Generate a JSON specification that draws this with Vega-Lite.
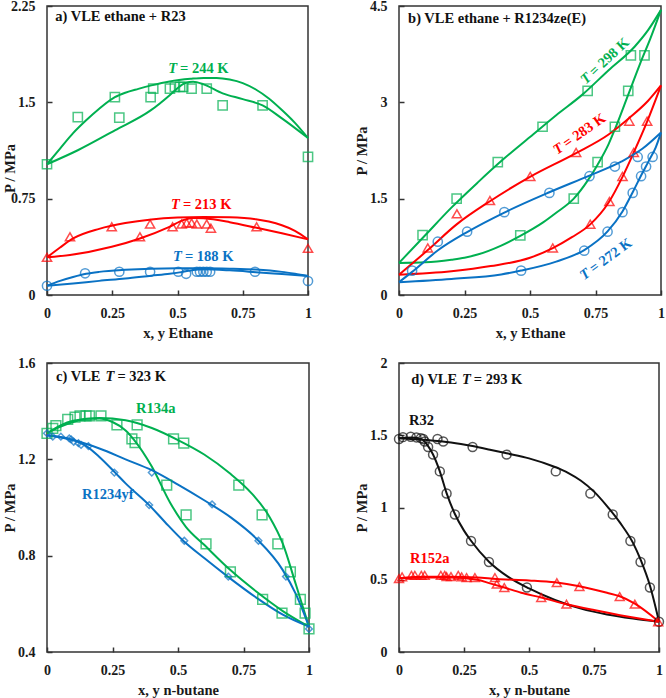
{
"$schema": "https://vega.github.io/schema/vega-lite/v6.json",
"background": "white",
"padding": {"left": 1, "top": -2, "right": 5, "bottom": 5},
"columns": 2,
"spacing": {"row": 68, "column": 90},
"bounds": "flush",
"resolve": {"scale": {"color": "independent", "shape": "independent", "size": "independent", "x": "independent", "y": "independent"}},
"config": {
 "font": "Liberation Serif",
 "view": {"stroke": "#333333", "strokeWidth": 1.5},
 "axis": {"grid": false, "domain": false, "tickSize": -5, "tickColor": "#333333", "tickWidth": 1.5, "labelFont": "Liberation Serif", "labelFontSize": 14, "labelFontWeight": "bold", "labelColor": "#1a1a1a", "labelFlush": false, "labelOverlap": false, "titleFont": "Liberation Serif", "titleFontSize": 14.5, "titleFontWeight": "bold", "titleColor": "#1a1a1a"},
 "axisX": {"labelPadding": 16, "titleBaseline": "middle", "titleY": 38},
 "axisY": {"labelPadding": 17, "titleBaseline": "middle", "titleX": -37},
 "text": {"font": "Liberation Serif", "fontSize": 14.5, "fontWeight": "bold"}
},
"datasets": {
 "aPts": [
  {"s":"244 K","x":0,"y":1.018},{"s":"244 K","x":0.118,"y":1.385},{"s":"244 K","x":0.26,"y":1.541},{"s":"244 K","x":0.277,"y":1.381},{"s":"244 K","x":0.397,"y":1.541},{"s":"244 K","x":0.407,"y":1.606},{"s":"244 K","x":0.471,"y":1.606},{"s":"244 K","x":0.49,"y":1.62},{"s":"244 K","x":0.51,"y":1.62},{"s":"244 K","x":0.522,"y":1.62},{"s":"244 K","x":0.554,"y":1.606},{"s":"244 K","x":0.612,"y":1.606},{"s":"244 K","x":0.673,"y":1.476},{"s":"244 K","x":0.826,"y":1.476},{"s":"244 K","x":1,"y":1.075},
  {"s":"213 K","x":0,"y":0.293},{"s":"213 K","x":0.088,"y":0.453},{"s":"213 K","x":0.248,"y":0.531},{"s":"213 K","x":0.356,"y":0.453},{"s":"213 K","x":0.395,"y":0.552},{"s":"213 K","x":0.481,"y":0.531},{"s":"213 K","x":0.516,"y":0.552},{"s":"213 K","x":0.535,"y":0.56},{"s":"213 K","x":0.554,"y":0.56},{"s":"213 K","x":0.574,"y":0.552},{"s":"213 K","x":0.612,"y":0.552},{"s":"213 K","x":0.628,"y":0.52},{"s":"213 K","x":0.803,"y":0.531},{"s":"213 K","x":1,"y":0.363},
  {"s":"188 K","x":0,"y":0.072},{"s":"188 K","x":0.146,"y":0.169},{"s":"188 K","x":0.277,"y":0.181},{"s":"188 K","x":0.395,"y":0.181},{"s":"188 K","x":0.503,"y":0.181},{"s":"188 K","x":0.533,"y":0.165},{"s":"188 K","x":0.574,"y":0.181},{"s":"188 K","x":0.586,"y":0.181},{"s":"188 K","x":0.599,"y":0.181},{"s":"188 K","x":0.612,"y":0.181},{"s":"188 K","x":0.625,"y":0.181},{"s":"188 K","x":0.797,"y":0.181},{"s":"188 K","x":1,"y":0.109}
 ],
 "aLines": [
  {"c":"g1","s":"244 K","x":0,"y":1.018},{"c":"g1","s":"244 K","x":0.05,"y":1.14},{"c":"g1","s":"244 K","x":0.1,"y":1.26},{"c":"g1","s":"244 K","x":0.15,"y":1.36},{"c":"g1","s":"244 K","x":0.2,"y":1.45},{"c":"g1","s":"244 K","x":0.26,"y":1.54},{"c":"g1","s":"244 K","x":0.3,"y":1.575},{"c":"g1","s":"244 K","x":0.35,"y":1.605},{"c":"g1","s":"244 K","x":0.4,"y":1.632},{"c":"g1","s":"244 K","x":0.47,"y":1.663},{"c":"g1","s":"244 K","x":0.55,"y":1.683},{"c":"g1","s":"244 K","x":0.6,"y":1.69},{"c":"g1","s":"244 K","x":0.65,"y":1.69},{"c":"g1","s":"244 K","x":0.7,"y":1.678},{"c":"g1","s":"244 K","x":0.75,"y":1.65},{"c":"g1","s":"244 K","x":0.8,"y":1.6},{"c":"g1","s":"244 K","x":0.85,"y":1.53},{"c":"g1","s":"244 K","x":0.9,"y":1.44},{"c":"g1","s":"244 K","x":0.95,"y":1.34},{"c":"g1","s":"244 K","x":1,"y":1.222},
  {"c":"g2","s":"244 K","x":0,"y":1.018},{"c":"g2","s":"244 K","x":0.118,"y":1.127},{"c":"g2","s":"244 K","x":0.26,"y":1.282},{"c":"g2","s":"244 K","x":0.397,"y":1.437},{"c":"g2","s":"244 K","x":0.469,"y":1.554},{"c":"g2","s":"244 K","x":0.5,"y":1.61},{"c":"g2","s":"244 K","x":0.53,"y":1.65},{"c":"g2","s":"244 K","x":0.56,"y":1.66},{"c":"g2","s":"244 K","x":0.6,"y":1.64},{"c":"g2","s":"244 K","x":0.673,"y":1.57},{"c":"g2","s":"244 K","x":0.75,"y":1.525},{"c":"g2","s":"244 K","x":0.826,"y":1.476},{"c":"g2","s":"244 K","x":0.9,"y":1.375},{"c":"g2","s":"244 K","x":1,"y":1.222},
  {"c":"r1","s":"213 K","x":0,"y":0.293},{"c":"r1","s":"213 K","x":0.05,"y":0.37},{"c":"r1","s":"213 K","x":0.1,"y":0.44},{"c":"r1","s":"213 K","x":0.2,"y":0.515},{"c":"r1","s":"213 K","x":0.3,"y":0.56},{"c":"r1","s":"213 K","x":0.4,"y":0.588},{"c":"r1","s":"213 K","x":0.5,"y":0.603},{"c":"r1","s":"213 K","x":0.6,"y":0.608},{"c":"r1","s":"213 K","x":0.7,"y":0.605},{"c":"r1","s":"213 K","x":0.8,"y":0.59},{"c":"r1","s":"213 K","x":0.85,"y":0.572},{"c":"r1","s":"213 K","x":0.9,"y":0.543},{"c":"r1","s":"213 K","x":0.95,"y":0.5},{"c":"r1","s":"213 K","x":1,"y":0.433},
  {"c":"r2","s":"213 K","x":0,"y":0.293},{"c":"r2","s":"213 K","x":0.088,"y":0.311},{"c":"r2","s":"213 K","x":0.248,"y":0.375},{"c":"r2","s":"213 K","x":0.356,"y":0.44},{"c":"r2","s":"213 K","x":0.469,"y":0.531},{"c":"r2","s":"213 K","x":0.522,"y":0.583},{"c":"r2","s":"213 K","x":0.56,"y":0.6},{"c":"r2","s":"213 K","x":0.6,"y":0.597},{"c":"r2","s":"213 K","x":0.7,"y":0.567},{"c":"r2","s":"213 K","x":0.803,"y":0.523},{"c":"r2","s":"213 K","x":0.9,"y":0.48},{"c":"r2","s":"213 K","x":1,"y":0.433},
  {"c":"b1","s":"188 K","x":0,"y":0.072},{"c":"b1","s":"188 K","x":0.05,"y":0.11},{"c":"b1","s":"188 K","x":0.1,"y":0.14},{"c":"b1","s":"188 K","x":0.15,"y":0.165},{"c":"b1","s":"188 K","x":0.2,"y":0.18},{"c":"b1","s":"188 K","x":0.3,"y":0.196},{"c":"b1","s":"188 K","x":0.4,"y":0.205},{"c":"b1","s":"188 K","x":0.5,"y":0.208},{"c":"b1","s":"188 K","x":0.6,"y":0.208},{"c":"b1","s":"188 K","x":0.7,"y":0.205},{"c":"b1","s":"188 K","x":0.8,"y":0.198},{"c":"b1","s":"188 K","x":0.9,"y":0.18},{"c":"b1","s":"188 K","x":0.95,"y":0.165},{"c":"b1","s":"188 K","x":1,"y":0.148},
  {"c":"b2","s":"188 K","x":0,"y":0.072},{"c":"b2","s":"188 K","x":0.1,"y":0.09},{"c":"b2","s":"188 K","x":0.2,"y":0.11},{"c":"b2","s":"188 K","x":0.3,"y":0.128},{"c":"b2","s":"188 K","x":0.4,"y":0.15},{"c":"b2","s":"188 K","x":0.47,"y":0.165},{"c":"b2","s":"188 K","x":0.52,"y":0.18},{"c":"b2","s":"188 K","x":0.56,"y":0.195},{"c":"b2","s":"188 K","x":0.6,"y":0.2},{"c":"b2","s":"188 K","x":0.7,"y":0.192},{"c":"b2","s":"188 K","x":0.8,"y":0.178},{"c":"b2","s":"188 K","x":0.9,"y":0.163},{"c":"b2","s":"188 K","x":1,"y":0.148}
 ],
 "aLab": [
  {"t":"a) VLE  ethane + R23","s":"title","x":0.024,"y":2.162},
  {"t":"T","s":"244 K","x":0.502,"y":1.756},{"t":"= 244 K","s":"244 K","x":0.502,"y":1.756},
  {"t":"T","s":"213 K","x":0.513,"y":0.699},{"t":"= 213 K","s":"213 K","x":0.513,"y":0.699},
  {"t":"T","s":"188 K","x":0.521,"y":0.295},{"t":"= 188 K","s":"188 K","x":0.521,"y":0.295}
 ],
 "bPts": [
  {"s":"298 K","x":0.09,"y":0.931},{"s":"298 K","x":0.22,"y":1.5},{"s":"298 K","x":0.377,"y":2.07},{"s":"298 K","x":0.548,"y":2.62},{"s":"298 K","x":0.72,"y":3.18},{"s":"298 K","x":0.885,"y":3.73},{"s":"298 K","x":0.937,"y":3.73},{"s":"298 K","x":0.875,"y":3.18},{"s":"298 K","x":0.824,"y":2.62},{"s":"298 K","x":0.758,"y":2.07},{"s":"298 K","x":0.667,"y":1.5},{"s":"298 K","x":0.463,"y":0.93},
  {"s":"283 K","x":0.11,"y":0.732},{"s":"283 K","x":0.221,"y":1.264},{"s":"283 K","x":0.347,"y":1.471},{"s":"283 K","x":0.501,"y":1.846},{"s":"283 K","x":0.676,"y":2.22},{"s":"283 K","x":0.879,"y":2.707},{"s":"283 K","x":0.947,"y":2.707},{"s":"283 K","x":0.896,"y":2.22},{"s":"283 K","x":0.853,"y":1.846},{"s":"283 K","x":0.803,"y":1.456},{"s":"283 K","x":0.73,"y":1.103},{"s":"283 K","x":0.587,"y":0.732},
  {"s":"272 K","x":0.05,"y":0.379},{"s":"272 K","x":0.148,"y":0.83},{"s":"272 K","x":0.26,"y":0.986},{"s":"272 K","x":0.402,"y":1.29},{"s":"272 K","x":0.574,"y":1.59},{"s":"272 K","x":0.727,"y":1.85},{"s":"272 K","x":0.824,"y":2.0},{"s":"272 K","x":0.911,"y":2.15},{"s":"272 K","x":0.968,"y":2.15},{"s":"272 K","x":0.943,"y":2.0},{"s":"272 K","x":0.924,"y":1.85},{"s":"272 K","x":0.892,"y":1.59},{"s":"272 K","x":0.853,"y":1.29},{"s":"272 K","x":0.796,"y":0.986},{"s":"272 K","x":0.707,"y":0.69},{"s":"272 K","x":0.466,"y":0.379}
 ],
 "bLines": [
  {"c":"g1","s":"298 K","x":0,"y":0.5},{"c":"g1","s":"298 K","x":0.1,"y":0.93},{"c":"g1","s":"298 K","x":0.2,"y":1.36},{"c":"g1","s":"298 K","x":0.3,"y":1.75},{"c":"g1","s":"298 K","x":0.4,"y":2.12},{"c":"g1","s":"298 K","x":0.5,"y":2.46},{"c":"g1","s":"298 K","x":0.6,"y":2.8},{"c":"g1","s":"298 K","x":0.7,"y":3.12},{"c":"g1","s":"298 K","x":0.8,"y":3.5},{"c":"g1","s":"298 K","x":0.9,"y":3.87},{"c":"g1","s":"298 K","x":0.95,"y":4.12},{"c":"g1","s":"298 K","x":1,"y":4.44},
  {"c":"g2","s":"298 K","x":0,"y":0.5},{"c":"g2","s":"298 K","x":0.1,"y":0.51},{"c":"g2","s":"298 K","x":0.2,"y":0.55},{"c":"g2","s":"298 K","x":0.25,"y":0.58},{"c":"g2","s":"298 K","x":0.3,"y":0.63},{"c":"g2","s":"298 K","x":0.39,"y":0.77},{"c":"g2","s":"298 K","x":0.463,"y":0.92},{"c":"g2","s":"298 K","x":0.55,"y":1.13},{"c":"g2","s":"298 K","x":0.6,"y":1.28},{"c":"g2","s":"298 K","x":0.667,"y":1.5},{"c":"g2","s":"298 K","x":0.72,"y":1.78},{"c":"g2","s":"298 K","x":0.758,"y":2.03},{"c":"g2","s":"298 K","x":0.8,"y":2.35},{"c":"g2","s":"298 K","x":0.824,"y":2.58},{"c":"g2","s":"298 K","x":0.875,"y":3.12},{"c":"g2","s":"298 K","x":0.92,"y":3.6},{"c":"g2","s":"298 K","x":0.96,"y":4.0},{"c":"g2","s":"298 K","x":1,"y":4.44},
  {"c":"r1","s":"283 K","x":0,"y":0.316},{"c":"r1","s":"283 K","x":0.11,"y":0.7},{"c":"r1","s":"283 K","x":0.22,"y":1.1},{"c":"r1","s":"283 K","x":0.347,"y":1.46},{"c":"r1","s":"283 K","x":0.5,"y":1.84},{"c":"r1","s":"283 K","x":0.676,"y":2.21},{"c":"r1","s":"283 K","x":0.8,"y":2.5},{"c":"r1","s":"283 K","x":0.88,"y":2.76},{"c":"r1","s":"283 K","x":0.95,"y":3.02},{"c":"r1","s":"283 K","x":1,"y":3.263},
  {"c":"r2","s":"283 K","x":0,"y":0.316},{"c":"r2","s":"283 K","x":0.2,"y":0.37},{"c":"r2","s":"283 K","x":0.35,"y":0.45},{"c":"r2","s":"283 K","x":0.5,"y":0.58},{"c":"r2","s":"283 K","x":0.587,"y":0.73},{"c":"r2","s":"283 K","x":0.66,"y":0.9},{"c":"r2","s":"283 K","x":0.73,"y":1.1},{"c":"r2","s":"283 K","x":0.8,"y":1.44},{"c":"r2","s":"283 K","x":0.853,"y":1.84},{"c":"r2","s":"283 K","x":0.896,"y":2.22},{"c":"r2","s":"283 K","x":0.947,"y":2.7},{"c":"r2","s":"283 K","x":1,"y":3.263},
  {"c":"b1","s":"272 K","x":0,"y":0.2},{"c":"b1","s":"272 K","x":0.05,"y":0.36},{"c":"b1","s":"272 K","x":0.15,"y":0.7},{"c":"b1","s":"272 K","x":0.26,"y":0.98},{"c":"b1","s":"272 K","x":0.4,"y":1.28},{"c":"b1","s":"272 K","x":0.574,"y":1.6},{"c":"b1","s":"272 K","x":0.727,"y":1.86},{"c":"b1","s":"272 K","x":0.85,"y":2.08},{"c":"b1","s":"272 K","x":0.93,"y":2.28},{"c":"b1","s":"272 K","x":1,"y":2.53},
  {"c":"b2","s":"272 K","x":0,"y":0.2},{"c":"b2","s":"272 K","x":0.2,"y":0.25},{"c":"b2","s":"272 K","x":0.39,"y":0.32},{"c":"b2","s":"272 K","x":0.466,"y":0.38},{"c":"b2","s":"272 K","x":0.6,"y":0.52},{"c":"b2","s":"272 K","x":0.707,"y":0.7},{"c":"b2","s":"272 K","x":0.796,"y":0.99},{"c":"b2","s":"272 K","x":0.853,"y":1.3},{"c":"b2","s":"272 K","x":0.892,"y":1.6},{"c":"b2","s":"272 K","x":0.924,"y":1.86},{"c":"b2","s":"272 K","x":0.955,"y":2.1},{"c":"b2","s":"272 K","x":0.98,"y":2.3},{"c":"b2","s":"272 K","x":1,"y":2.53}
 ],
 "bLab": [
  {"t":"b) VLE  ethane + R1234ze(E)","s":"title","x":0.027,"y":4.3},
  {"t":"T","s":"298 K","x":0.73,"y":3.424},{"t":"= 298 K","s":"298 K","x":0.73,"y":3.424},
  {"t":"T","s":"283 K","x":0.626,"y":2.32},{"t":"= 283 K","s":"283 K","x":0.626,"y":2.32},
  {"t":"T","s":"272 K","x":0.728,"y":0.368},{"t":"= 272 K","s":"272 K","x":0.728,"y":0.368}
 ],
 "cPts": [
  {"s":"R134a","x":0,"y":1.308},{"s":"R134a","x":0.022,"y":1.329},{"s":"R134a","x":0.034,"y":1.34},{"s":"R134a","x":0.079,"y":1.366},{"s":"R134a","x":0.107,"y":1.375},{"s":"R134a","x":0.126,"y":1.38},{"s":"R134a","x":0.149,"y":1.38},{"s":"R134a","x":0.162,"y":1.38},{"s":"R134a","x":0.206,"y":1.38},{"s":"R134a","x":0.267,"y":1.343},{"s":"R134a","x":0.344,"y":1.343},{"s":"R134a","x":0.324,"y":1.285},{"s":"R134a","x":0.336,"y":1.269},{"s":"R134a","x":0.457,"y":1.093},{"s":"R134a","x":0.483,"y":1.285},{"s":"R134a","x":0.522,"y":1.267},{"s":"R134a","x":0.531,"y":0.969},{"s":"R134a","x":0.607,"y":0.849},{"s":"R134a","x":0.7,"y":0.733},{"s":"R134a","x":0.823,"y":0.619},{"s":"R134a","x":0.897,"y":0.561},{"s":"R134a","x":1,"y":0.496},{"s":"R134a","x":0.732,"y":1.093},{"s":"R134a","x":0.821,"y":0.969},{"s":"R134a","x":0.881,"y":0.849},{"s":"R134a","x":0.929,"y":0.733},{"s":"R134a","x":0.967,"y":0.619},{"s":"R134a","x":0.985,"y":0.561},
  {"s":"R1234yf","x":0,"y":1.308},{"s":"R1234yf","x":0.022,"y":1.294},{"s":"R1234yf","x":0.053,"y":1.294},{"s":"R1234yf","x":0.085,"y":1.287},{"s":"R1234yf","x":0.092,"y":1.283},{"s":"R1234yf","x":0.102,"y":1.273},{"s":"R1234yf","x":0.12,"y":1.267},{"s":"R1234yf","x":0.13,"y":1.26},{"s":"R1234yf","x":0.158,"y":1.255},{"s":"R1234yf","x":0.257,"y":1.145},{"s":"R1234yf","x":0.39,"y":1.01},{"s":"R1234yf","x":0.4,"y":1.145},{"s":"R1234yf","x":0.63,"y":1.013},{"s":"R1234yf","x":0.807,"y":0.862},{"s":"R1234yf","x":0.912,"y":0.713},{"s":"R1234yf","x":0.524,"y":0.862},{"s":"R1234yf","x":0.692,"y":0.713},{"s":"R1234yf","x":1,"y":0.496}
 ],
 "cLines": [
  {"c":"g1","s":"R134a","x":0,"y":1.308},{"c":"g1","s":"R134a","x":0.05,"y":1.34},{"c":"g1","s":"R134a","x":0.1,"y":1.36},{"c":"g1","s":"R134a","x":0.2,"y":1.372},{"c":"g1","s":"R134a","x":0.3,"y":1.362},{"c":"g1","s":"R134a","x":0.4,"y":1.33},{"c":"g1","s":"R134a","x":0.5,"y":1.28},{"c":"g1","s":"R134a","x":0.6,"y":1.22},{"c":"g1","s":"R134a","x":0.7,"y":1.14},{"c":"g1","s":"R134a","x":0.78,"y":1.06},{"c":"g1","s":"R134a","x":0.85,"y":0.96},{"c":"g1","s":"R134a","x":0.9,"y":0.85},{"c":"g1","s":"R134a","x":0.95,"y":0.68},{"c":"g1","s":"R134a","x":1,"y":0.505},
  {"c":"g2","s":"R134a","x":0,"y":1.308},{"c":"g2","s":"R134a","x":0.05,"y":1.335},{"c":"g2","s":"R134a","x":0.1,"y":1.355},{"c":"g2","s":"R134a","x":0.15,"y":1.368},{"c":"g2","s":"R134a","x":0.2,"y":1.37},{"c":"g2","s":"R134a","x":0.25,"y":1.355},{"c":"g2","s":"R134a","x":0.3,"y":1.32},{"c":"g2","s":"R134a","x":0.333,"y":1.28},{"c":"g2","s":"R134a","x":0.4,"y":1.17},{"c":"g2","s":"R134a","x":0.47,"y":1.02},{"c":"g2","s":"R134a","x":0.53,"y":0.92},{"c":"g2","s":"R134a","x":0.6,"y":0.845},{"c":"g2","s":"R134a","x":0.7,"y":0.74},{"c":"g2","s":"R134a","x":0.8,"y":0.65},{"c":"g2","s":"R134a","x":0.9,"y":0.57},{"c":"g2","s":"R134a","x":1,"y":0.505},
  {"c":"b1","s":"R1234yf","x":0,"y":1.3},{"c":"b1","s":"R1234yf","x":0.1,"y":1.28},{"c":"b1","s":"R1234yf","x":0.2,"y":1.245},{"c":"b1","s":"R1234yf","x":0.3,"y":1.2},{"c":"b1","s":"R1234yf","x":0.4,"y":1.155},{"c":"b1","s":"R1234yf","x":0.5,"y":1.095},{"c":"b1","s":"R1234yf","x":0.6,"y":1.03},{"c":"b1","s":"R1234yf","x":0.7,"y":0.96},{"c":"b1","s":"R1234yf","x":0.8,"y":0.87},{"c":"b1","s":"R1234yf","x":0.9,"y":0.74},{"c":"b1","s":"R1234yf","x":0.95,"y":0.64},{"c":"b1","s":"R1234yf","x":1,"y":0.505},
  {"c":"b2","s":"R1234yf","x":0,"y":1.3},{"c":"b2","s":"R1234yf","x":0.1,"y":1.28},{"c":"b2","s":"R1234yf","x":0.15,"y":1.255},{"c":"b2","s":"R1234yf","x":0.2,"y":1.21},{"c":"b2","s":"R1234yf","x":0.26,"y":1.145},{"c":"b2","s":"R1234yf","x":0.3,"y":1.1},{"c":"b2","s":"R1234yf","x":0.39,"y":1.01},{"c":"b2","s":"R1234yf","x":0.45,"y":0.94},{"c":"b2","s":"R1234yf","x":0.52,"y":0.862},{"c":"b2","s":"R1234yf","x":0.6,"y":0.79},{"c":"b2","s":"R1234yf","x":0.69,"y":0.713},{"c":"b2","s":"R1234yf","x":0.8,"y":0.625},{"c":"b2","s":"R1234yf","x":0.9,"y":0.555},{"c":"b2","s":"R1234yf","x":1,"y":0.505}
 ],
 "cLab": [
  {"t":"c) VLE","s":"title","x":0.027,"y":1.543},{"t":"T","s":"title","x":0.261,"y":1.543},{"t":"= 323 K","s":"title","x":0.261,"y":1.543},
  {"t":"R134a","s":"R134a","x":0.332,"y":1.408},{"t":"R1234yf","s":"R1234yf","x":0.126,"y":1.052}
 ],
 "dPts": [
  {"s":"R32","x":0,"y":1.474},{"s":"R32","x":0.015,"y":1.487},{"s":"R32","x":0.045,"y":1.49},{"s":"R32","x":0.067,"y":1.485},{"s":"R32","x":0.084,"y":1.48},{"s":"R32","x":0.093,"y":1.474},{"s":"R32","x":0.099,"y":1.457},{"s":"R32","x":0.112,"y":1.419},{"s":"R32","x":0.131,"y":1.366},{"s":"R32","x":0.148,"y":1.474},{"s":"R32","x":0.17,"y":1.457},{"s":"R32","x":0.157,"y":1.25},{"s":"R32","x":0.183,"y":1.097},{"s":"R32","x":0.215,"y":0.952},{"s":"R32","x":0.277,"y":0.768},{"s":"R32","x":0.346,"y":0.623},{"s":"R32","x":0.283,"y":1.419},{"s":"R32","x":0.414,"y":1.366},{"s":"R32","x":0.492,"y":0.446},{"s":"R32","x":0.603,"y":1.25},{"s":"R32","x":0.736,"y":1.097},{"s":"R32","x":0.822,"y":0.952},{"s":"R32","x":0.89,"y":0.768},{"s":"R32","x":0.929,"y":0.623},{"s":"R32","x":0.965,"y":0.446},{"s":"R32","x":1,"y":0.209},
  {"s":"R152a","x":0,"y":0.508},{"s":"R152a","x":0.012,"y":0.52},{"s":"R152a","x":0.048,"y":0.531},{"s":"R152a","x":0.061,"y":0.531},{"s":"R152a","x":0.086,"y":0.531},{"s":"R152a","x":0.099,"y":0.531},{"s":"R152a","x":0.161,"y":0.531},{"s":"R152a","x":0.176,"y":0.531},{"s":"R152a","x":0.183,"y":0.522},{"s":"R152a","x":0.2,"y":0.522},{"s":"R152a","x":0.228,"y":0.531},{"s":"R152a","x":0.241,"y":0.52},{"s":"R152a","x":0.26,"y":0.515},{"s":"R152a","x":0.292,"y":0.515},{"s":"R152a","x":0.369,"y":0.515},{"s":"R152a","x":0.376,"y":0.469},{"s":"R152a","x":0.405,"y":0.446},{"s":"R152a","x":0.547,"y":0.377},{"s":"R152a","x":0.607,"y":0.48},{"s":"R152a","x":0.644,"y":0.331},{"s":"R152a","x":0.694,"y":0.453},{"s":"R152a","x":0.849,"y":0.384},{"s":"R152a","x":0.907,"y":0.331},{"s":"R152a","x":0.997,"y":0.209}
 ],
 "dLines": [
  {"c":"k1","s":"R32","x":0,"y":1.48},{"c":"k1","s":"R32","x":0.1,"y":1.468},{"c":"k1","s":"R32","x":0.2,"y":1.45},{"c":"k1","s":"R32","x":0.283,"y":1.425},{"c":"k1","s":"R32","x":0.35,"y":1.4},{"c":"k1","s":"R32","x":0.414,"y":1.375},{"c":"k1","s":"R32","x":0.5,"y":1.34},{"c":"k1","s":"R32","x":0.6,"y":1.28},{"c":"k1","s":"R32","x":0.65,"y":1.24},{"c":"k1","s":"R32","x":0.7,"y":1.185},{"c":"k1","s":"R32","x":0.75,"y":1.11},{"c":"k1","s":"R32","x":0.8,"y":1.01},{"c":"k1","s":"R32","x":0.85,"y":0.895},{"c":"k1","s":"R32","x":0.9,"y":0.755},{"c":"k1","s":"R32","x":0.93,"y":0.635},{"c":"k1","s":"R32","x":0.965,"y":0.46},{"c":"k1","s":"R32","x":1,"y":0.21},
  {"c":"k2","s":"R32","x":0,"y":1.48},{"c":"k2","s":"R32","x":0.05,"y":1.485},{"c":"k2","s":"R32","x":0.09,"y":1.47},{"c":"k2","s":"R32","x":0.11,"y":1.43},{"c":"k2","s":"R32","x":0.13,"y":1.37},{"c":"k2","s":"R32","x":0.157,"y":1.25},{"c":"k2","s":"R32","x":0.183,"y":1.1},{"c":"k2","s":"R32","x":0.215,"y":0.955},{"c":"k2","s":"R32","x":0.25,"y":0.84},{"c":"k2","s":"R32","x":0.277,"y":0.77},{"c":"k2","s":"R32","x":0.346,"y":0.625},{"c":"k2","s":"R32","x":0.42,"y":0.52},{"c":"k2","s":"R32","x":0.5,"y":0.44},{"c":"k2","s":"R32","x":0.6,"y":0.36},{"c":"k2","s":"R32","x":0.7,"y":0.3},{"c":"k2","s":"R32","x":0.8,"y":0.26},{"c":"k2","s":"R32","x":0.9,"y":0.232},{"c":"k2","s":"R32","x":1,"y":0.21},
  {"c":"r1","s":"R152a","x":0,"y":0.51},{"c":"r1","s":"R152a","x":0.1,"y":0.52},{"c":"r1","s":"R152a","x":0.2,"y":0.52},{"c":"r1","s":"R152a","x":0.3,"y":0.515},{"c":"r1","s":"R152a","x":0.376,"y":0.505},{"c":"r1","s":"R152a","x":0.5,"y":0.495},{"c":"r1","s":"R152a","x":0.6,"y":0.482},{"c":"r1","s":"R152a","x":0.694,"y":0.455},{"c":"r1","s":"R152a","x":0.8,"y":0.41},{"c":"r1","s":"R152a","x":0.849,"y":0.386},{"c":"r1","s":"R152a","x":0.907,"y":0.335},{"c":"r1","s":"R152a","x":1,"y":0.21},
  {"c":"r2","s":"R152a","x":0,"y":0.51},{"c":"r2","s":"R152a","x":0.1,"y":0.515},{"c":"r2","s":"R152a","x":0.2,"y":0.515},{"c":"r2","s":"R152a","x":0.3,"y":0.5},{"c":"r2","s":"R152a","x":0.35,"y":0.475},{"c":"r2","s":"R152a","x":0.405,"y":0.446},{"c":"r2","s":"R152a","x":0.47,"y":0.41},{"c":"r2","s":"R152a","x":0.547,"y":0.377},{"c":"r2","s":"R152a","x":0.644,"y":0.331},{"c":"r2","s":"R152a","x":0.75,"y":0.29},{"c":"r2","s":"R152a","x":0.85,"y":0.255},{"c":"r2","s":"R152a","x":1,"y":0.21}
 ],
 "dLab": [
  {"t":"d) VLE","s":"title","x":0.039,"y":1.883},{"t":"T","s":"title","x":0.28,"y":1.883},{"t":"= 293 K","s":"title","x":0.28,"y":1.883},
  {"t":"R32","s":"R32","x":0.031,"y":1.6},{"t":"R152a","s":"R152a","x":0.035,"y":0.641}
 ]
},
"concat": [
  {"width": 261, "height": 289,
   "encoding": {
    "x": {"field": "x", "type": "quantitative", "scale": {"domain": [0, 1], "nice": false}, "axis": {"values": [0, 0.25, 0.5, 0.75, 1], "format": ".3~g", "title": "x, y Ethane"}},
    "y": {"field": "y", "type": "quantitative", "scale": {"domain": [0, 2.25], "nice": false}, "axis": {"values": [0, 0.75, 1.5, 2.25], "format": ".3~g", "title": "P / MPa", "titleY": 162}},
    "color": {"field": "s", "type": "nominal", "scale": {"domain": ["244 K", "213 K", "188 K", "title"], "range": ["#00b050", "#ff0000", "#0a72c4", "#111111"]}, "legend": null}
   },
   "layer": [
    {"data": {"name": "aLines"}, "mark": {"type": "line", "strokeWidth": 2, "interpolate": "monotone"}, "encoding": {"detail": {"field": "c"}}},
    {"data": {"name": "aPts"}, "mark": {"type": "point", "filled": false, "strokeWidth": 1.5, "size": 85}, "encoding": {"shape": {"field": "s", "type": "nominal", "scale": {"domain": ["244 K", "213 K", "188 K"], "range": ["square", "triangle-up", "circle"]}, "legend": null}}},
    {"data": {"name": "aLab"}, "transform": [{"filter": "datum.t === 'T'"}], "mark": {"type": "text", "fontStyle": "italic", "align": "right", "baseline": "middle", "dx": -1}, "encoding": {"text": {"field": "t"}}},
    {"data": {"name": "aLab"}, "transform": [{"filter": "datum.t !== 'T'"}], "mark": {"type": "text", "align": "left", "baseline": "middle", "dx": 2}, "encoding": {"text": {"field": "t"}}}
   ]
  },
  {"width": 262, "height": 289,
   "encoding": {
    "x": {"field": "x", "type": "quantitative", "scale": {"domain": [0, 1], "nice": false}, "axis": {"values": [0, 0.25, 0.5, 0.75, 1], "format": ".3~g", "title": "x, y Ethane"}},
    "y": {"field": "y", "type": "quantitative", "scale": {"domain": [0, 4.5], "nice": false}, "axis": {"values": [0, 1.5, 3, 4.5], "format": ".3~g", "title": "P / MPa"}},
    "color": {"field": "s", "type": "nominal", "scale": {"domain": ["298 K", "283 K", "272 K", "title"], "range": ["#00b050", "#ff0000", "#0a72c4", "#111111"]}, "legend": null}
   },
   "layer": [
    {"data": {"name": "bLines"}, "mark": {"type": "line", "strokeWidth": 2, "interpolate": "monotone"}, "encoding": {"detail": {"field": "c"}}},
    {"data": {"name": "bPts"}, "mark": {"type": "point", "filled": false, "strokeWidth": 1.5, "size": 85}, "encoding": {"shape": {"field": "s", "type": "nominal", "scale": {"domain": ["298 K", "283 K", "272 K"], "range": ["square", "triangle-up", "circle"]}, "legend": null}}},
    {"data": {"name": "bLab"}, "transform": [{"filter": "datum.s === 'title'"}], "mark": {"type": "text", "align": "left", "baseline": "middle", "dx": 2}, "encoding": {"text": {"field": "t"}}},
    {"data": {"name": "bLab"}, "transform": [{"filter": "datum.s === '298 K' && datum.t === 'T'"}], "mark": {"type": "text", "fontStyle": "italic", "align": "right", "baseline": "middle", "dx": -1, "angle": 317}, "encoding": {"text": {"field": "t"}}},
    {"data": {"name": "bLab"}, "transform": [{"filter": "datum.s === '298 K' && datum.t !== 'T'"}], "mark": {"type": "text", "align": "left", "baseline": "middle", "dx": 2, "angle": 317}, "encoding": {"text": {"field": "t"}}},
    {"data": {"name": "bLab"}, "transform": [{"filter": "datum.s === '283 K' && datum.t === 'T'"}], "mark": {"type": "text", "fontStyle": "italic", "align": "right", "baseline": "middle", "dx": -1, "angle": 325}, "encoding": {"text": {"field": "t"}}},
    {"data": {"name": "bLab"}, "transform": [{"filter": "datum.s === '283 K' && datum.t !== 'T'"}], "mark": {"type": "text", "align": "left", "baseline": "middle", "dx": 2, "angle": 325}, "encoding": {"text": {"field": "t"}}},
    {"data": {"name": "bLab"}, "transform": [{"filter": "datum.s === '272 K' && datum.t === 'T'"}], "mark": {"type": "text", "fontStyle": "italic", "align": "right", "baseline": "middle", "dx": -1, "angle": 324}, "encoding": {"text": {"field": "t"}}},
    {"data": {"name": "bLab"}, "transform": [{"filter": "datum.s === '272 K' && datum.t !== 'T'"}], "mark": {"type": "text", "align": "left", "baseline": "middle", "dx": 2, "angle": 324}, "encoding": {"text": {"field": "t"}}}
   ]
  },
  {"width": 262, "height": 289,
   "encoding": {
    "x": {"field": "x", "type": "quantitative", "scale": {"domain": [0, 1], "nice": false}, "axis": {"values": [0, 0.25, 0.5, 0.75, 1], "format": ".3~g", "title": "x, y n-butane"}},
    "y": {"field": "y", "type": "quantitative", "scale": {"domain": [0.4, 1.6], "nice": false, "zero": false}, "axis": {"values": [0.4, 0.8, 1.2, 1.6], "format": ".3~g", "title": "P / MPa"}},
    "color": {"field": "s", "type": "nominal", "scale": {"domain": ["R134a", "R1234yf", "title"], "range": ["#00b050", "#0a72c4", "#111111"]}, "legend": null}
   },
   "layer": [
    {"data": {"name": "cLines"}, "mark": {"type": "line", "strokeWidth": 2, "interpolate": "monotone"}, "encoding": {"detail": {"field": "c"}}},
    {"data": {"name": "cPts"}, "mark": {"type": "point", "filled": false, "strokeWidth": 1.5}, "encoding": {"shape": {"field": "s", "type": "nominal", "scale": {"domain": ["R134a", "R1234yf"], "range": ["square", "diamond"]}, "legend": null}, "size": {"field": "s", "type": "nominal", "scale": {"domain": ["R134a", "R1234yf"], "range": [95, 45]}, "legend": null}}},
    {"data": {"name": "cLab"}, "transform": [{"filter": "datum.t === 'T'"}], "mark": {"type": "text", "fontStyle": "italic", "align": "right", "baseline": "middle", "dx": -1}, "encoding": {"text": {"field": "t"}}},
    {"data": {"name": "cLab"}, "transform": [{"filter": "datum.t !== 'T'"}], "mark": {"type": "text", "align": "left", "baseline": "middle", "dx": 2}, "encoding": {"text": {"field": "t"}}}
   ]
  },
  {"width": 260, "height": 289,
   "encoding": {
    "x": {"field": "x", "type": "quantitative", "scale": {"domain": [0, 1], "nice": false}, "axis": {"values": [0, 0.25, 0.5, 0.75, 1], "format": ".3~g", "title": "x, y n-butane"}},
    "y": {"field": "y", "type": "quantitative", "scale": {"domain": [0, 2], "nice": false}, "axis": {"values": [0, 0.5, 1, 1.5, 2], "format": ".3~g", "title": "P / MPa"}},
    "color": {"field": "s", "type": "nominal", "scale": {"domain": ["R32", "R152a", "title"], "range": ["#111111", "#ff0000", "#111111"]}, "legend": null}
   },
   "layer": [
    {"data": {"name": "dLines"}, "mark": {"type": "line", "strokeWidth": 2, "interpolate": "monotone"}, "encoding": {"detail": {"field": "c"}}},
    {"data": {"name": "dPts"}, "mark": {"type": "point", "filled": false, "strokeWidth": 1.5, "size": 80}, "encoding": {"shape": {"field": "s", "type": "nominal", "scale": {"domain": ["R32", "R152a"], "range": ["circle", "triangle-up"]}, "legend": null}}},
    {"data": {"name": "dLab"}, "transform": [{"filter": "datum.t === 'T'"}], "mark": {"type": "text", "fontStyle": "italic", "align": "right", "baseline": "middle", "dx": -1}, "encoding": {"text": {"field": "t"}}},
    {"data": {"name": "dLab"}, "transform": [{"filter": "datum.t !== 'T'"}], "mark": {"type": "text", "align": "left", "baseline": "middle", "dx": 2}, "encoding": {"text": {"field": "t"}}}
   ]
  }
]
}
